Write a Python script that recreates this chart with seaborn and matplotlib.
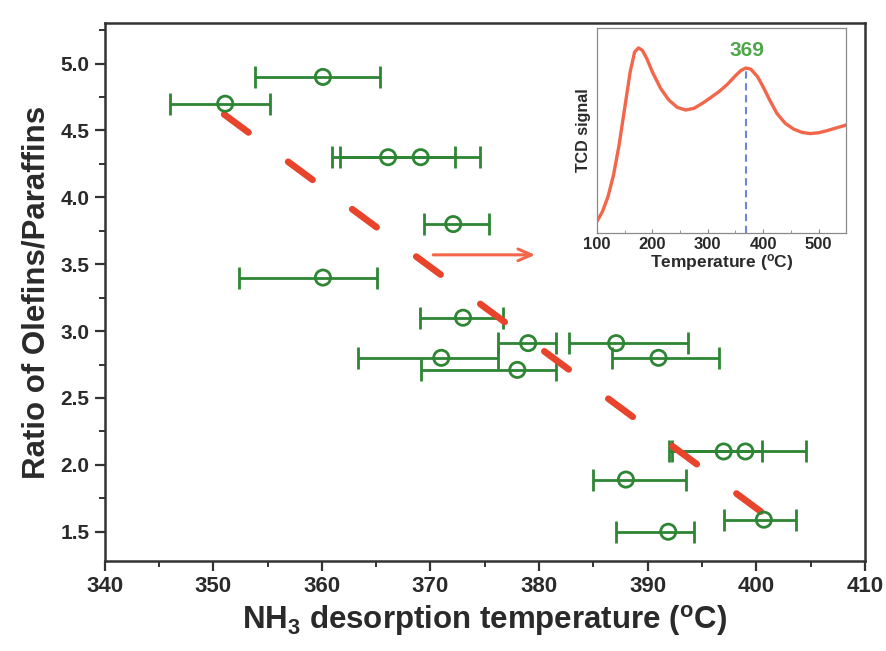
import numpy as np
import pandas as pd
import matplotlib
matplotlib.use("Agg")
import matplotlib.pyplot as plt
import seaborn as sns
from matplotlib.ticker import MultipleLocator, FormatStrFormatter

sns.set_theme(style="ticks")
plt.rcParams["font.family"] = ["Liberation Sans", "DejaVu Sans"]
plt.rcParams["mathtext.default"] = "regular"

# ---- main data: NH3 desorption temperature vs olefin/paraffin ratio ----
temp = [360.1, 351.1, 366.1, 369.1, 372.1, 360.1, 373.0, 379.0, 387.1,
        371.0, 391.0, 378.0, 397.0, 399.0, 388.0, 400.7, 391.9]
ratio = [4.90, 4.70, 4.30, 4.30, 3.80, 3.40, 3.10, 2.91, 2.91,
         2.80, 2.80, 2.71, 2.10, 2.10, 1.89, 1.59, 1.50]
temp_low = [353.8, 346.0, 361.7, 360.9, 369.4, 352.4, 369.0, 376.2, 382.8,
            363.3, 386.7, 369.1, 392.0, 392.2, 385.0, 397.0, 387.1]
temp_high = [365.4, 355.2, 372.3, 374.6, 375.4, 365.1, 376.7, 381.6, 393.7,
             376.2, 396.6, 381.6, 400.5, 404.6, 393.5, 403.7, 394.3]

trend_x = [351.0, 400.6]
trend_y = [4.62, 1.64]

arrow_x = [370.0, 379.9]
arrow_y = 3.57

x_ticks = [340, 350, 360, 370, 380, 390, 400, 410]
y_ticks = [1.5, 2.0, 2.5, 3.0, 3.5, 4.0, 4.5, 5.0]

# ---- inset data: TPD profile ----
tcd_temp = [100, 110, 120, 130, 140, 150, 160, 168, 175, 182, 190, 200, 215,
            230, 245, 260, 275, 290, 305, 320, 335, 350, 360, 369, 378, 390,
            400, 412, 425, 440, 455, 470, 485, 500, 515, 530, 550]
tcd_signal = [0.057, 0.105, 0.178, 0.284, 0.430, 0.608, 0.786, 0.883, 0.903,
              0.891, 0.851, 0.786, 0.705, 0.648, 0.613, 0.600, 0.608, 0.632,
              0.660, 0.689, 0.724, 0.767, 0.793, 0.805, 0.799, 0.762, 0.713,
              0.648, 0.583, 0.535, 0.507, 0.491, 0.485, 0.489, 0.499, 0.511,
              0.527]
peak_temp = 369
peak_signal = 0.805
inset_ticks = [100, 200, 300, 400, 500]

GREEN = "#2e8534"
RED = "#e8432b"
SALMON = "#f2664a"
DARK = "#2a2a2a"

df = pd.DataFrame({"temp": temp, "ratio": ratio,
                   "lo": temp_low, "hi": temp_high})

fig = plt.figure(figsize=(8.87, 6.51), dpi=100)
ax = fig.add_axes([0.118, 0.138, 0.857, 0.826])

# error bars
xerr = np.vstack([df["temp"] - df["lo"], df["hi"] - df["temp"]])
ax.errorbar(df["temp"], df["ratio"], xerr=xerr, fmt="none", ecolor=GREEN,
            elinewidth=2.0, capsize=8, capthick=2.0, zorder=2)

# trend dashed line
sns.lineplot(x=trend_x, y=trend_y, ax=ax, color=RED, linewidth=4.8,
             zorder=3, estimator=None)
ln = ax.lines[-1]
ln.set_dashes((4.55, 7.4))
ln.set_dash_capstyle("round")

# circles
sns.scatterplot(data=df, x="temp", y="ratio", ax=ax, marker="o", s=120,
                facecolors="none", edgecolor=GREEN, linewidth=2.0, zorder=4)

# arrow
ax.annotate("", xy=(arrow_x[1], arrow_y), xytext=(arrow_x[0], arrow_y),
            arrowprops=dict(arrowstyle="->,head_length=0.8,head_width=0.35",
                            color=SALMON, lw=2.2), zorder=3)

ax.set_xlim(340, 410)
ax.set_ylim(1.28, 5.3)
ax.set_xticks(x_ticks)
ax.set_yticks(y_ticks)
ax.xaxis.set_minor_locator(MultipleLocator(5))
ax.yaxis.set_minor_locator(MultipleLocator(0.25))
ax.yaxis.set_major_formatter(FormatStrFormatter("%.1f"))
ax.tick_params(which="major", direction="out", length=7, width=1.6,
               color="#333333", pad=4)
ax.tick_params(which="minor", direction="out", length=4, width=1.4,
               color="#333333")
ax.tick_params(axis="x", labelsize=16)
ax.tick_params(axis="y", labelsize=15)
for lab in ax.get_xticklabels() + ax.get_yticklabels():
    lab.set_fontweight("bold")
    lab.set_color(DARK)
for sp in ax.spines.values():
    sp.set_visible(True)
    sp.set_linewidth(1.8)
    sp.set_color("#333333")

ax.set_xlabel(r"NH$_3$ desorption temperature ($^{o}$C)", fontsize=22.5,
              fontweight="bold", color=DARK, labelpad=4)
ax.set_ylabel("Ratio of Olefins/Paraffins", fontsize=22.5, fontweight="bold",
              color=DARK, labelpad=6)

# ---- inset ----
ins = fig.add_axes([0.673, 0.642, 0.281, 0.315])
sns.lineplot(x=tcd_temp, y=tcd_signal, ax=ins, color=SALMON, linewidth=2.4,
             estimator=None)
ins.plot([peak_temp, peak_temp], [0, peak_signal], color="#6f86d8",
         linestyle=(0, (3.5, 2.2)), linewidth=1.5)
ins.text(peak_temp + 2, peak_signal + 0.04, str(peak_temp), color="#4fa64a",
         fontsize=15, fontweight="bold", ha="center", va="bottom")
ins.set_xlim(100, 550)
ins.set_ylim(0, 1)
ins.set_xticks(inset_ticks)
ins.xaxis.set_minor_locator(MultipleLocator(50))
ins.set_yticks([])
ins.tick_params(which="major", direction="in", length=3, width=0.8,
                labelsize=12, color="#888888", pad=3)
ins.tick_params(which="minor", direction="in", length=2, width=0.6,
                color="#888888")
for lab in ins.get_xticklabels():
    lab.set_fontweight("bold")
    lab.set_color(DARK)
for sp in ins.spines.values():
    sp.set_visible(True)
    sp.set_linewidth(0.9)
    sp.set_color("#8a8a8a")
ins.set_xlabel(r"Temperature ($^{o}$C)", fontsize=12.5, fontweight="bold",
               color=DARK, labelpad=0)
ins.set_ylabel("TCD signal", fontsize=11.5, fontweight="bold", color=DARK,
               labelpad=4)

fig.savefig("out.png", dpi=100)
